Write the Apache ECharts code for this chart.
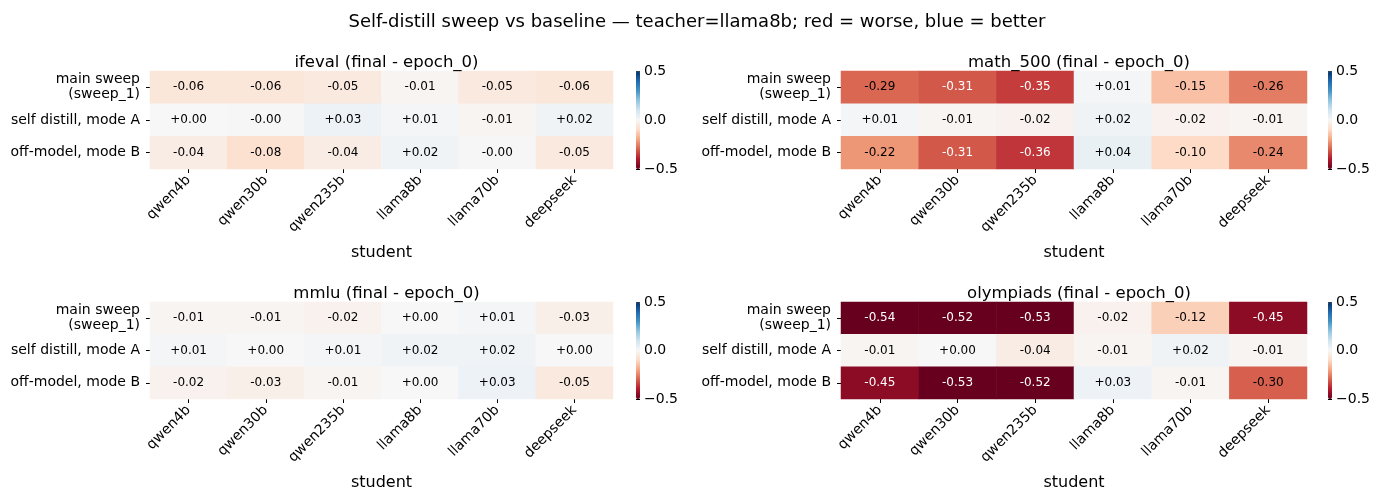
<!DOCTYPE html>
<html>
<head>
<meta charset="utf-8">
<script src="https://cdn.jsdelivr.net/npm/echarts@6/dist/echarts.min.js"></script>
<style>
  html, body { margin: 0; padding: 0; background: #fff; }
  #chart { width: 1385px; height: 504px; }
</style>
</head>
<body>
<div id="chart"></div>
<script>
// students along x, runs along y
const students = ['qwen4b', 'qwen30b', 'qwen235b', 'llama8b', 'llama70b', 'deepseek'];
const modes = ['main sweep\n(sweep_1)', 'self distill, mode A', 'off-model, mode B'];
const cbarTicks = [-0.5, 0, 0.5];

// final - epoch_0, one row per mode
const ifeval = [
  [-0.06, -0.06, -0.05, -0.01, -0.05, -0.06],
  [0.00, -0.003, 0.03, 0.01, -0.01, 0.02],
  [-0.04, -0.08, -0.04, 0.02, -0.003, -0.05]
];
const math500 = [
  [-0.29, -0.31, -0.35, 0.01, -0.15, -0.26],
  [0.01, -0.01, -0.02, 0.02, -0.02, -0.01],
  [-0.22, -0.31, -0.36, 0.04, -0.10, -0.24]
];
const mmlu = [
  [-0.01, -0.01, -0.02, 0.00, 0.01, -0.03],
  [0.01, 0.00, 0.01, 0.02, 0.02, 0.00],
  [-0.02, -0.03, -0.01, 0.00, 0.03, -0.05]
];
const olympiads = [
  [-0.54, -0.52, -0.53, -0.02, -0.12, -0.45],
  [-0.01, 0.00, -0.04, -0.01, 0.02, -0.01],
  [-0.45, -0.53, -0.52, 0.03, -0.01, -0.30]
];

const panels = [
  { name: 'ifeval', data: ifeval, left: 150, top: 71, width: 463, height: 98, cbar: 636 },
  { name: 'math_500', data: math500, left: 841, top: 71, width: 466, height: 98, cbar: 1328 },
  { name: 'mmlu', data: mmlu, left: 150, top: 302, width: 463, height: 97, cbar: 636 },
  { name: 'olympiads', data: olympiads, left: 841, top: 302, width: 466, height: 97, cbar: 1328 }
];

const RdBu = ['#67001f', '#b2182b', '#d6604d', '#f4a582', '#fddbc7', '#f7f7f7',
  '#d1e5f0', '#92c5de', '#4393c3', '#2166ac', '#053061'];
const FONT = 'DejaVu Sans';

function fmt(v) {
  const s = Math.abs(v).toFixed(2);
  return (v < 0 ? '-' : '+') + s;
}

const chart = echarts.init(document.getElementById('chart'));

const grid = [], xAxis = [], yAxis = [], series = [], visualMap = [];
const title = [{
  text: 'Self-distill sweep vs baseline \u2014 teacher=llama8b; red = worse, blue = better',
  left: 692, top: 8, textAlign: 'center',
  textStyle: { fontFamily: FONT, fontSize: 18, fontWeight: 'normal', color: '#000' }
}];

panels.forEach((p, i) => {
  grid.push({ left: p.left, top: p.top, width: p.width, height: p.height });
  title.push({
    text: p.name + ' (final - epoch_0)',
    left: p.left + p.width / 2, top: p.top - 22, textAlign: 'center',
    textStyle: { fontFamily: FONT, fontSize: 16.5, fontWeight: 'normal', color: '#000' }
  });
  xAxis.push({
    type: 'category', gridIndex: i, data: students,
    axisLine: { show: false },
    axisTick: { show: true, alignWithLabel: true, length: 4, lineStyle: { color: '#000' } },
    axisLabel: { rotate: 45, margin: 9, fontFamily: FONT, fontSize: 14, color: '#000' },
    splitLine: { show: false },
    name: 'student', nameLocation: 'middle', nameGap: 76,
    nameTextStyle: { fontFamily: FONT, fontSize: 16, color: '#000' }
  });
  yAxis.push({
    type: 'category', gridIndex: i, data: modes, inverse: true,
    axisLine: { show: false },
    axisTick: { show: true, alignWithLabel: true, length: 4, lineStyle: { color: '#000' } },
    axisLabel: { margin: 10, fontFamily: FONT, fontSize: 14, color: '#000', lineHeight: 15 },
    splitLine: { show: false }
  });
  const cells = [];
  p.data.forEach((row, r) => {
    row.forEach((v, c) => {
      const clipped = Math.max(-0.5, Math.min(0.5, v));
      cells.push({
        value: [c, r, clipped, v],
        label: { color: Math.abs(v) > 0.305 ? '#fff' : '#000' }
      });
    });
  });
  series.push({
    type: 'heatmap', xAxisIndex: i, yAxisIndex: i, data: cells,
    label: {
      show: true, fontFamily: FONT, fontSize: 12,
      formatter: (d) => fmt(d.value[3])
    },
    itemStyle: { borderWidth: 0 },
    emphasis: { disabled: true }
  });
  visualMap.push({
    type: 'continuous', seriesIndex: i, dimension: 2,
    min: -0.5, max: 0.5, calculable: false, hoverLink: false,
    left: p.cbar, top: p.top, itemWidth: 4, itemHeight: p.height, padding: 0,
    inRange: { color: RdBu }
  });
});

// colorbar axes, laid over the visualMap bars
panels.forEach((p, i) => {
  const gi = panels.length + i;
  grid.push({ left: p.cbar, top: p.top, width: 4, height: p.height });
  xAxis.push({ type: 'value', gridIndex: gi, show: false });
  yAxis.push({
    type: 'value', gridIndex: gi, position: 'right',
    min: cbarTicks[0], max: cbarTicks[cbarTicks.length - 1], interval: 0.5,
    axisLine: { show: false },
    axisTick: { show: true, length: 4, lineStyle: { color: '#000' } },
    axisLabel: {
      margin: 4, fontFamily: FONT, fontSize: 14, color: '#000',
      formatter: (v) => v.toFixed(1).replace('-', '\u2212')
    },
    splitLine: { show: false }
  });
});

chart.setOption({
  backgroundColor: '#fff',
  animation: false,
  title: title,
  grid: grid,
  xAxis: xAxis,
  yAxis: yAxis,
  visualMap: visualMap,
  series: series
});
</script>
</body>
</html>
